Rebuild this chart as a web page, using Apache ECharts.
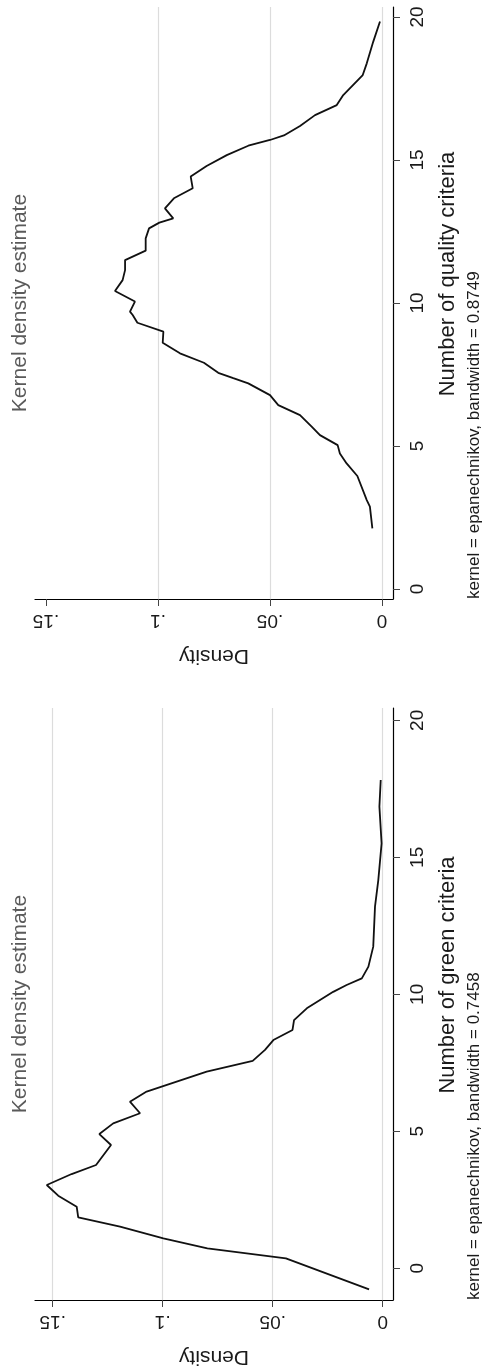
<!DOCTYPE html>
<html>
<head>
<meta charset="utf-8">
<script src="https://cdn.jsdelivr.net/npm/echarts@6/dist/echarts.min.js"></script>
<style>
html,body{margin:0;padding:0;background:#fff;}
#chart{width:484px;height:1372px;}
</style>
</head>
<body>
<div id="chart"></div>
<script>
// Quality criteria panel (top)
const qualityX = [2.12, 2.88, 3.11, 3.95, 4.39, 4.74, 5.03, 5.38, 5.68, 6.08, 6.43, 6.78, 7.19, 7.37, 7.56, 7.91, 8.24, 8.61, 9.0, 9.31, 9.58, 9.70, 10.05, 10.42, 10.80, 11.15, 11.50, 11.83, 12.26, 12.61, 12.81, 12.96, 13.31, 13.66, 14.01, 14.42, 14.79, 15.17, 15.50, 15.70, 15.86, 16.19, 16.57, 16.92, 17.27, 17.97, 18.38, 19.14, 19.84];
const qualityDensity = [0.0043, 0.0054, 0.0068, 0.0110, 0.0158, 0.0188, 0.0198, 0.0277, 0.0314, 0.0366, 0.0463, 0.0500, 0.0597, 0.0664, 0.0731, 0.0795, 0.0902, 0.0979, 0.0976, 0.1092, 0.1113, 0.1125, 0.1103, 0.1192, 0.1158, 0.1147, 0.1147, 0.1055, 0.1055, 0.1040, 0.0994, 0.0932, 0.0969, 0.0929, 0.0845, 0.0854, 0.0783, 0.0693, 0.0597, 0.0500, 0.0438, 0.0366, 0.0299, 0.0202, 0.0173, 0.0086, 0.0068, 0.0039, 0.0009];
// Green criteria panel (bottom)
const greenX = [-0.77, 0.36, 0.73, 1.09, 1.52, 1.86, 2.25, 2.65, 3.04, 3.44, 3.77, 4.50, 4.90, 5.29, 5.66, 6.08, 6.45, 7.18, 7.57, 7.97, 8.33, 8.70, 9.06, 9.49, 10.09, 10.34, 10.58, 11.01, 11.74, 13.20, 14.17, 15.51, 16.85, 17.82];
const greenDensity = [0.0062, 0.0440, 0.0797, 0.0997, 0.1194, 0.1384, 0.1391, 0.1475, 0.1527, 0.1414, 0.1303, 0.1235, 0.1288, 0.1225, 0.1103, 0.1149, 0.1073, 0.0800, 0.0591, 0.0535, 0.0497, 0.0410, 0.0403, 0.0345, 0.0225, 0.0164, 0.0095, 0.0065, 0.0043, 0.0035, 0.0020, 0.0005, 0.0015, 0.0009];

const criteriaTicks = [0, 5, 10, 15, 20];
const densityTicks = [0, 0.05, 0.1, 0.15];
const densityTickLabels = ['0', '.05', '.1', '.15'];
const qualityGrid = [0, 0.05, 0.1];
const greenGrid = [0, 0.05, 0.1, 0.15];

const titleText = 'Kernel density estimate';
const qualityAxisTitle = 'Number of quality criteria';
const greenAxisTitle = 'Number of green criteria';
const qualityNote = 'kernel = epanechnikov, bandwidth = 0.8749';
const greenNote = 'kernel = epanechnikov, bandwidth = 0.7458';

const FONT = '"Liberation Sans", Arial, Helvetica, sans-serif';

function densityAxis(gridIndex, min, max) {
  return {
    gridIndex, type: 'value', inverse: true, position: 'bottom', min, max,
    axisLine: { show: true, onZero: false, lineStyle: { color: '#000', width: 1.2 } },
    axisTick: { show: true, length: 7, customValues: densityTicks, lineStyle: { color: '#444', width: 1 } },
    axisLabel: {
      customValues: densityTicks, rotate: 180, margin: 12, fontSize: 19, color: '#1a1a1a', fontFamily: FONT,
      formatter: v => { const i = densityTicks.findIndex(t => Math.abs(t - v) < 1e-9); return i >= 0 ? densityTickLabels[i] : ''; }
    },
    splitLine: { show: false },
    name: 'Density', nameLocation: 'middle', nameRotate: 180, nameGap: 46,
    nameTextStyle: { fontSize: 21, color: '#1a1a1a', fontFamily: FONT }
  };
}
function criteriaAxis(gridIndex, min, max, title) {
  return {
    gridIndex, type: 'value', position: 'right', min, max,
    axisLine: { show: true, onZero: false, lineStyle: { color: '#000', width: 1.2 } },
    axisTick: { show: true, length: 7, customValues: criteriaTicks, lineStyle: { color: '#444', width: 1 } },
    axisLabel: { customValues: criteriaTicks, rotate: 90, margin: 15, fontSize: 19, color: '#1a1a1a', fontFamily: FONT },
    splitLine: { show: false },
    name: title, nameLocation: 'middle', nameRotate: 90, nameGap: 44,
    nameTextStyle: { fontSize: 22, color: '#1a1a1a', fontFamily: FONT, padding: [0, 0, 0, 58] }
  };
}
function gridSeries(idx, vals) {
  return {
    type: 'line', xAxisIndex: idx, yAxisIndex: idx, data: [], z: 1, silent: true,
    markLine: {
      z: 1, silent: true, symbol: 'none', animation: false, label: { show: false },
      lineStyle: { color: '#dcdcdc', type: 'solid', width: 1.2 },
      data: vals.map(v => ({ xAxis: v }))
    }
  };
}
function curveSeries(idx, xs, ds) {
  return {
    type: 'line', xAxisIndex: idx, yAxisIndex: idx, z: 10,
    data: xs.map((c, i) => [ds[i], c]),
    showSymbol: false, symbol: 'none', smooth: false,
    lineStyle: { color: '#111', width: 1.8 }
  };
}
function rotText(x, y, text, size, color, align) {
  return { type: 'text', x, y, rotation: Math.PI / 2,
    style: { text, fontSize: size, fill: color, align, verticalAlign: 'middle', fontFamily: FONT } };
}

const chart = echarts.init(document.getElementById('chart'), null, { renderer: 'canvas' });
chart.setOption({
  animation: false,
  backgroundColor: '#fff',
  grid: [
    { left: 35, top: 7, width: 358, height: 592 },
    { left: 35, top: 708, width: 358, height: 592 }
  ],
  xAxis: [densityAxis(0, -0.00491, 0.15491), densityAxis(1, -0.00468, 0.15805)],
  yAxis: [criteriaAxis(0, -0.35, 20.35, qualityAxisTitle), criteriaAxis(1, -1.157, 20.45, greenAxisTitle)],
  series: [
    gridSeries(0, qualityGrid), gridSeries(1, greenGrid),
    curveSeries(0, qualityX, qualityDensity), curveSeries(1, greenX, greenDensity)
  ],
  graphic: [
    rotText(20, 303, titleText, 21, '#5a5a5a', 'center'),
    rotText(20, 1004, titleText, 21, '#5a5a5a', 'center'),
    rotText(474, 599, qualityNote, 17, '#1a1a1a', 'left'),
    rotText(474, 1300, greenNote, 17, '#1a1a1a', 'left')
  ]
});
</script>
</body>
</html>
